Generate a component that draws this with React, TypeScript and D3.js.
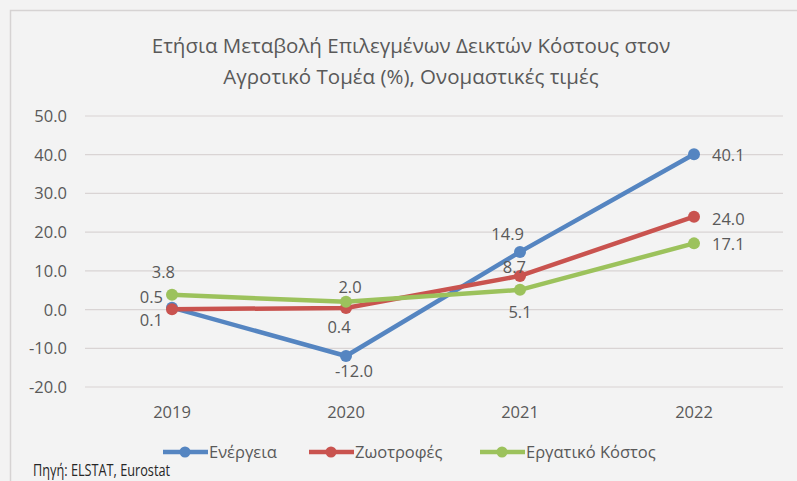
import React, {useEffect, useRef} from 'react';
import * as d3 from 'd3';

// chart data
const years: string[] = ['2019', '2020', '2021', '2022'];
const energy: number[] = [0.5, -12.0, 14.9, 40.1];
const feed: number[] = [0.1, 0.4, 8.7, 24.0];
const labour: number[] = [3.8, 2.0, 5.1, 17.1];
const seriesNames: string[] = ['Ενέργεια', 'Ζωοτροφές', 'Εργατικό Κόστος'];
const yTicks: number[] = [-20, -10, 0, 10, 20, 30, 40, 50];
const titleLines: string[] = [
  'Ετήσια Μεταβολή Επιλεγμένων Δεικτών Κόστους στον',
  'Αγροτικό Τομέα (%), Ονομαστικές τιμές',
];
const sourceText = 'Πηγή: ELSTAT, Eurostat';

const colors = ['#5585c1', '#c9534f', '#9cc25c'];
// where each data label sits relative to its point: [dx, dy, anchor]
const labelPos: [number, number, string][][] = [
  [[-9, -5, 'end'], [8, 21, 'middle'], [4, -12, 'end'], [18, 7, 'start']],
  [[-9, 17, 'end'], [-7, 25, 'middle'], [6, -3, 'end'], [18, 8, 'start']],
  [[3, -17, 'end'], [4, -9, 'middle'], [0, 28, 'middle'], [18, 7, 'start']],
];

const FONT = "'Open Sans', sans-serif";
const TEXT = '#595959';
// excel shows a plain hyphen for negatives
const fmt = d3.formatLocale({decimal: '.', thousands: ',', grouping: [3], currency: ['', ''], minus: '-'}).format('.1f');

const App = () => {
  const ref = useRef<SVGSVGElement>(null);

  useEffect(() => {
    drawChart();
    return () => {
      d3.select(ref.current).selectAll('*').remove();
    };
  }, []);

  const drawChart = () => {
    const width = 797;
    const height = 481;
    const svg = d3.select(ref.current);

    svg.append('rect').attr('width', width).attr('height', height).attr('fill', '#f3f3f3');
    svg.append('rect')
      .attr('x', 10.5).attr('y', 10.5)
      .attr('width', width).attr('height', height)
      .attr('fill', 'none').attr('stroke', '#d6d3d3').attr('stroke-width', 1.5);

    // title
    svg.append('g').selectAll('text')
      .data(titleLines)
      .enter().append('text')
      .attr('x', 411)
      .attr('y', (d, i) => 53 + i * 31)
      .attr('text-anchor', 'middle')
      .attr('font-family', FONT)
      .attr('font-size', 20.5)
      .attr('fill', TEXT)
      .text(d => d);

    const x = d3.scaleBand<string>().domain(years).range([85, 781]);
    const y = d3.scaleLinear().domain([-20, 50]).range([387, 116]);

    // gridlines + tick labels
    const grid = svg.append('g');
    grid.selectAll('line')
      .data(yTicks)
      .enter().append('line')
      .attr('x1', 85).attr('x2', 783)
      .attr('y1', d => y(d)).attr('y2', d => y(d))
      .attr('stroke', '#d9d4d4').attr('stroke-width', 1.2);
    grid.selectAll('text')
      .data(yTicks)
      .enter().append('text')
      .attr('x', 67)
      .attr('y', d => y(d) + 6)
      .attr('text-anchor', 'end')
      .attr('font-family', FONT)
      .attr('font-size', 16.5)
      .attr('fill', TEXT)
      .text(d => fmt(d));

    // year labels
    svg.append('g').selectAll('text')
      .data(years)
      .enter().append('text')
      .attr('x', d => (x(d) as number) + x.bandwidth() / 2)
      .attr('y', 418)
      .attr('text-anchor', 'middle')
      .attr('font-family', FONT)
      .attr('font-size', 16.5)
      .attr('fill', TEXT)
      .text(d => d);

    const cx = (i: number) => (x(years[i]) as number) + x.bandwidth() / 2;
    const line = d3.line<number>().x((d, i) => cx(i)).y(d => y(d));

    const series = [energy, feed, labour];
    series.forEach((vals, s) => {
      const g = svg.append('g');
      g.append('path')
        .datum(vals)
        .attr('d', line)
        .attr('fill', 'none')
        .attr('stroke', colors[s])
        .attr('stroke-width', 4.5)
        .attr('stroke-linejoin', 'round');
      g.selectAll('circle')
        .data(vals)
        .enter().append('circle')
        .attr('cx', (d, i) => cx(i))
        .attr('cy', d => y(d))
        .attr('r', 6)
        .attr('fill', colors[s]);
    });

    // data labels
    series.forEach((vals, s) => {
      svg.append('g').selectAll('text')
        .data(vals)
        .enter().append('text')
        .attr('x', (d, i) => cx(i) + labelPos[s][i][0])
        .attr('y', (d, i) => y(d) + labelPos[s][i][1])
        .attr('text-anchor', (d, i) => labelPos[s][i][2])
        .attr('font-family', FONT)
        .attr('font-size', 16.5)
        .attr('fill', TEXT)
        .text(d => fmt(d));
    });

    // legend
    const legendX = [163, 309, 480];
    const lg = svg.append('g');
    seriesNames.forEach((name, s) => {
      const item = lg.append('g').attr('transform', `translate(${legendX[s]},452)`);
      item.append('line').attr('x1', 0).attr('x2', 45).attr('y1', 0).attr('y2', 0)
        .attr('stroke', colors[s]).attr('stroke-width', 4.5);
      item.append('circle').attr('cx', 22).attr('cy', 0).attr('r', 5.5).attr('fill', colors[s]);
      item.append('text').attr('x', 46).attr('y', 6)
        .attr('font-family', FONT).attr('font-size', 16.5).attr('fill', TEXT)
        .text(name);
    });

    // source line is a narrow font in the original, squeeze it to fit
    svg.append('text')
      .attr('x', 33).attr('y', 476)
      .attr('font-family', FONT).attr('font-size', 15.5).attr('fill', '#262626')
      .attr('textLength', 137).attr('lengthAdjust', 'spacingAndGlyphs')
      .text(sourceText);
  };

  return (
    <div style={{position: 'fixed', left: 0, top: 0}}>
      <svg ref={ref} width={797} height={481}></svg>
    </div>
  );
};

export default App;
